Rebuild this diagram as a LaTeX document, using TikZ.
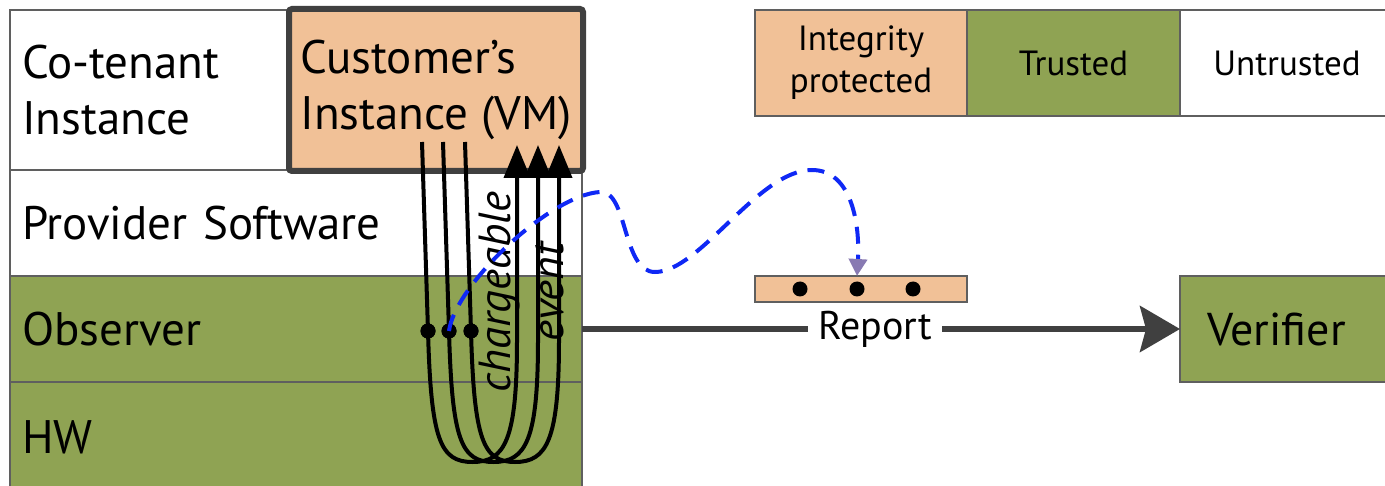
\documentclass[tikz,border=0pt]{standalone}
\usepackage{fontspec}
\setmainfont{PT Sans}
\usetikzlibrary{arrows.meta}
\definecolor{peach}{RGB}{241,193,151}
\definecolor{trustgreen}{RGB}{143,163,83}
\definecolor{edgegray}{RGB}{95,95,95}
\definecolor{boxgray}{RGB}{64,64,64}
\definecolor{flowblue}{RGB}{15,40,245}
\definecolor{tippurple}{RGB}{136,122,178}

\begin{document}
\begin{tikzpicture}[x=1pt,y=-1pt,
  every node/.style={outer sep=0pt},
  layer/.style={draw=edgegray, line width=1.5pt, anchor=north west,
    inner xsep=12pt, text width=548pt, align=left,
    font=\fontsize{47}{56}\selectfont},
  custbox/.style={draw=boxgray, line width=6pt, rounded corners=3pt, fill=peach,
    anchor=north west, minimum height=162pt, minimum width=294pt, inner xsep=4pt,
    align=left, font=\fontsize{47}{56}\selectfont},
  legcell/.style={draw=edgegray, line width=1.5pt, anchor=north west,
    minimum height=106pt, align=center, font=\fontsize{35}{42}\selectfont},
  strip/.style={draw=edgegray, line width=1.5pt, fill=peach,
    minimum width=212pt, minimum height=26pt},
  dot/.style={circle, fill=black, minimum size=15pt, inner sep=0pt},
  looppath/.style={line width=4pt, -{Triangle[length=33pt,width=26pt]}},
  flow/.style={flowblue, line width=4pt, dash pattern=on 17pt off 11pt,
    -{Triangle[length=17pt,width=18pt,color=tippurple]}},
  reportarrow/.style={boxgray, line width=6pt,
    -{Stealth[length=40pt,width=46pt,inset=6pt]}}
]
\useasboundingbox (0,0) rectangle (1385,486);

% software / hardware stack
\node[layer, minimum height=160pt] (cotenant) at (10,10) {Co-tenant\\Instance};
\node[layer, minimum height=106pt] (provider) at (10,170) {Provider Software};
\node[layer, fill=trustgreen, minimum height=106pt] (observer) at (10,276) {Observer};
\node[layer, fill=trustgreen, minimum height=110pt] (hw) at (10,382) {HW};
\node[custbox] (cust) at (289,9) {Customer’s\\Instance (VM)};

% legend
\node[legcell, fill=peach, minimum width=212pt] (lip) at (755,10) {Integrity\\protected};
\node[legcell, fill=trustgreen, minimum width=213pt] (ltr) at (967,10) {Trusted};
\node[legcell, minimum width=214pt] (lun) at (1180,10) {Untrusted};

% verifier and report
\node[layer, fill=trustgreen, minimum height=106pt, inner xsep=27pt, text width=190pt,
  font=\fontsize{46}{55}\selectfont] (ver) at (1180,276) {Verifier};
\node[strip] (rep) at (861,289) {};
\node[dot] (r1) at (800,289) {};
\node[dot] (r2) at (857,289) {};
\node[dot] (r3) at (913,289) {};

% event loops through the stack
\coordinate (t1) at (422,142);
\coordinate (t2) at (443,142);
\coordinate (t3) at (465,142);
\coordinate (a1) at (517,145);
\coordinate (a2) at (538,145);
\coordinate (a3) at (559,145);
\node[dot] (o1) at (428,331) {};
\node[dot] (o2) at (449,331) {};
\node[dot] (o3) at (471,331) {};
\foreach \i/\xl/\xr in {1/428/517, 2/449/538, 3/471/559}{
  \draw[looppath] (t\i) -- (o\i.center)
    .. controls (\xl+3,440) and (\xl+12,462) .. ({(\xl+\xr)/2},462)
    .. controls (\xr-12,462) and (\xr,440) .. (\xr,340) -- (a\i);
}
\node[dot] at (o1) {};
\node[dot] at (o2) {};
\node[dot] at (o3) {};

\node[rotate=90, align=center, font=\itshape\fontsize{45}{53}\selectfont] (ce) at (522,292) {chargeable\\event};

% measurement sent into the report
\draw[flow] (o2.center) .. controls (455,285) and (550,195) .. (600,192)
  .. controls (628,190) and (622,272) .. (655,272)
  .. controls (700,272) and (758,170) .. (812,170)
  .. controls (852,170) and (860,225) .. (rep.north -| r2);

\draw[reportarrow] (observer.east) -- (ver.west)
  node[pos=0.49, fill=white, inner xsep=10pt, inner ysep=2pt, text=black,
    font=\fontsize{40}{48}\selectfont] (replabel) {Report};
\end{tikzpicture}
\end{document}
